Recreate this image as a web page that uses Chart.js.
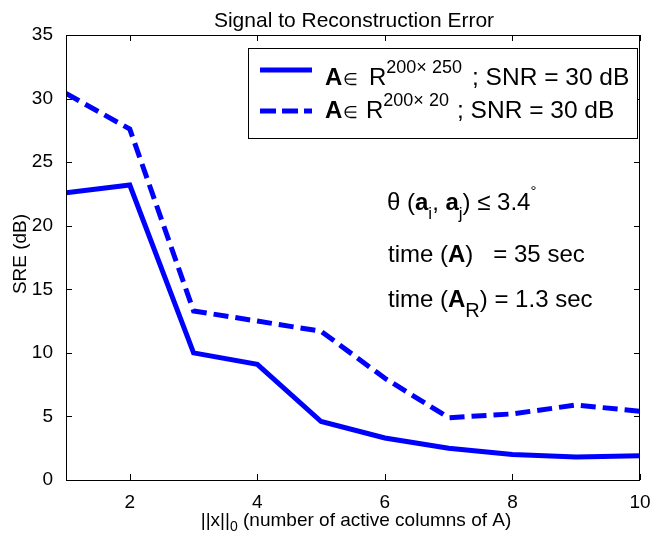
<!DOCTYPE html>
<html>
<head>
<meta charset="utf-8">
<script src="https://cdn.jsdelivr.net/npm/chart.js@4"></script>
<style>
  body { margin: 0; background: #fff; }
  #wrap { width: 655px; height: 533px; }
</style>
</head>
<body>
<div id="wrap"><canvas id="grafico" width="655" height="533"></canvas></div>
<script>
// datos
var columnas = [1, 2, 3, 4, 5, 6, 7, 8, 9, 10];
var sre_250 = [22.6, 23.2, 10.0, 9.1, 4.6, 3.3, 2.5, 2.0, 1.8, 1.9];
var sre_20 = [30.4, 27.6, 13.3, 12.5, 11.7, 8.0, 4.9, 5.2, 5.9, 5.4];
var xTicks = [2, 4, 6, 8, 10];
var yTicks = [0, 5, 10, 15, 20, 25, 30, 35];

var FONT = '"Liberation Sans", Arial, sans-serif';
var AZUL = 'rgb(0, 0, 255)';

// dibuja una linea de texto con partes (negrita, sub/superindice, x fijo)
function textoPartes(ctx, x, y, partes, size) {
    ctx.textBaseline = 'alphabetic';
    ctx.textAlign = 'left';
    for (var i = 0; i < partes.length; i++) {
        var p = partes[i];
        var s = p.size || size;
        if (p.x !== undefined) x = p.x;
        ctx.font = (p.bold ? 'bold ' : '') + s + 'px ' + FONT;
        ctx.fillText(p.t, x, y + (p.dy || 0));
        x += ctx.measureText(p.t).width;
    }
}

var extras = {
    id: 'extras',
    afterDraw: function (chart) {
        var ctx = chart.ctx;
        var a = chart.chartArea;
        var sx = chart.scales.x, sy = chart.scales.y;
        ctx.save();
        ctx.strokeStyle = '#000';
        ctx.lineWidth = 1;
        // marco
        ctx.strokeRect(a.left + 0.5, a.top + 0.5, a.right - a.left - 1, a.bottom - a.top);
        // ticks hacia adentro
        ctx.beginPath();
        xTicks.forEach(function (v) {
            var px = Math.round(sx.getPixelForValue(v)) + 0.5;
            ctx.moveTo(px, a.bottom); ctx.lineTo(px, a.bottom - 6);
            ctx.moveTo(px, a.top); ctx.lineTo(px, a.top + 6);
        });
        yTicks.forEach(function (v) {
            var py = Math.round(sy.getPixelForValue(v)) + 0.5;
            ctx.moveTo(a.left, py); ctx.lineTo(a.left + 6, py);
            ctx.moveTo(a.right, py); ctx.lineTo(a.right - 6, py);
        });
        ctx.stroke();

        // leyenda
        ctx.fillStyle = '#fff';
        ctx.fillRect(248, 48, 389, 90);
        ctx.strokeRect(248.5, 48.5, 389, 90);
        ctx.strokeStyle = AZUL;
        ctx.lineWidth = 5;
        ctx.beginPath(); ctx.moveTo(260, 70); ctx.lineTo(312, 70); ctx.stroke();
        ctx.setLineDash([16, 6]);
        ctx.beginPath(); ctx.moveTo(260, 111); ctx.lineTo(312, 111); ctx.stroke();
        ctx.setLineDash([]);
        ctx.fillStyle = '#000';
        textoPartes(ctx, 325, 85, [
            {t: 'A', bold: true}, {t: '\u2208', size: 17, x: 343}, {t: 'R', x: 369},
            {t: '200\u00d7 250', size: 18, dy: -12}, {t: '; SNR = 30 dB', x: 472, size: 24.5}
        ], 24);
        textoPartes(ctx, 325, 118, [
            {t: 'A', bold: true}, {t: '\u2208', size: 17, x: 343}, {t: 'R', x: 366},
            {t: '200\u00d7 20', size: 18, dy: -12}, {t: '; SNR = 30 dB', x: 457, size: 24.5}
        ], 24);

        // anotaciones
        textoPartes(ctx, 387, 210, [
            {t: '\u03b8 ('}, {t: 'a', bold: true}, {t: 'i', size: 17, dy: 9}, {t: ', '},
            {t: 'a', bold: true}, {t: 'j', size: 17, dy: 9}, {t: ') \u2264 3.4'},
            {t: '\u00b0', size: 15, dy: -14}
        ], 24);
        textoPartes(ctx, 388, 262, [
            {t: 'time ('}, {t: 'A', bold: true}, {t: ')   = 35 sec'}
        ], 24);
        textoPartes(ctx, 388, 307, [
            {t: 'time ('}, {t: 'A', bold: true}, {t: 'R', size: 20, dy: 10}, {t: ') = 1.3 sec'}
        ], 24);

        // titulo
        ctx.font = '21px ' + FONT;
        ctx.textAlign = 'center';
        ctx.fillText('Signal to Reconstruction Error', 354, 27);

        // titulo eje y
        ctx.save();
        ctx.translate(21, 254);
        ctx.rotate(-Math.PI / 2);
        ctx.font = '19px ' + FONT;
        ctx.textAlign = 'center';
        ctx.textBaseline = 'middle';
        ctx.fillText('SRE (dB)', 0, 0);
        ctx.restore();

        // etiqueta eje x con subindice
        ctx.font = '19px ' + FONT;
        var w1 = ctx.measureText('||x||').width;
        var w3 = ctx.measureText(' (number of active columns of A)').width;
        ctx.font = '14px ' + FONT;
        var w2 = ctx.measureText('0').width;
        var x0 = 356 - (w1 + w2 + w3) / 2;
        textoPartes(ctx, x0, 526, [
            {t: '||x||'}, {t: '0', size: 14, dy: 5}, {t: ' (number of active columns of A)'}
        ], 19);
        ctx.restore();
    }
};

var ctx = document.getElementById('grafico');
new Chart(ctx, {
    type: 'line',
    data: {
        labels: columnas,
        datasets: [{
            label: 'n250',
            data: columnas.map(function (c, i) { return {x: c, y: sre_250[i]}; }),
            borderColor: AZUL,
            borderWidth: 5,
            pointRadius: 0,
            tension: 0,
            fill: false
        }, {
            label: 'n20',
            data: columnas.map(function (c, i) { return {x: c, y: sre_20[i]}; }),
            borderColor: AZUL,
            borderWidth: 5,
            borderDash: [15, 7],
            pointRadius: 0,
            tension: 0,
            fill: false
        }]
    },
    options: {
        responsive: false,
        animation: false,
        layout: { padding: { left: 0, right: 15, top: 35, bottom: 0 } },
        plugins: {
            legend: { display: false },
            tooltip: { enabled: false },
            title: { display: false }
        },
        scales: {
            x: {
                type: 'linear',
                min: 1, max: 10,
                afterBuildTicks: function (s) { s.ticks = xTicks.map(function (v) { return {value: v}; }); },
                afterFit: function (s) { s.height = 53; },
                grid: { display: false },
                border: { display: false },
                ticks: { color: '#000', font: { family: FONT, size: 19 }, padding: 3, maxRotation: 0 }
            },
            y: {
                min: 0, max: 35,
                afterBuildTicks: function (s) { s.ticks = yTicks.map(function (v) { return {value: v}; }); },
                afterFit: function (s) { s.width = 66; },
                grid: { display: false },
                border: { display: false },
                ticks: { color: '#000', font: { family: FONT, size: 19 }, padding: 5 }
            }
        }
    },
    plugins: [extras]
});
</script>
</body>
</html>
